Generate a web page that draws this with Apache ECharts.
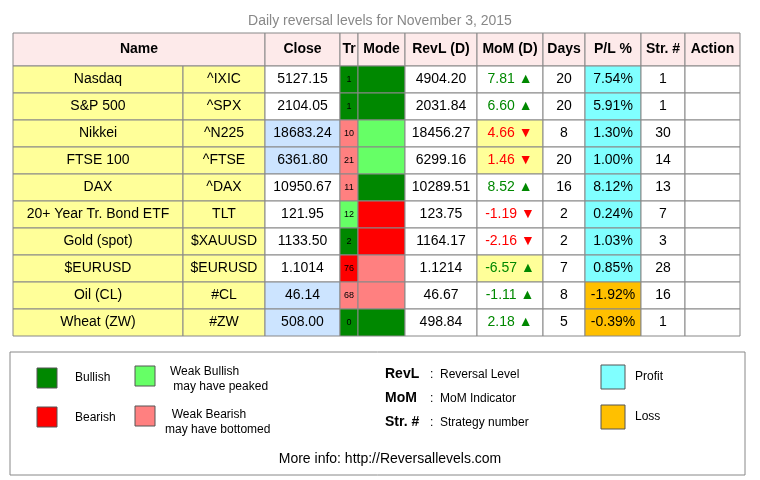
<!DOCTYPE html>
<html><head><meta charset="utf-8">
<script src="https://cdn.jsdelivr.net/npm/echarts@6/dist/echarts.min.js"></script>
<style>body{margin:0}#main{width:760px;height:480px}</style>
</head><body><div id="main"></div>
<script>
// table data
var names = ['Nasdaq','S&P 500','Nikkei','FTSE 100','DAX','20+ Year Tr. Bond ETF','Gold (spot)','$EURUSD','Oil (CL)','Wheat (ZW)'];
var tickers = ['^IXIC','^SPX','^N225','^FTSE','^DAX','TLT','$XAUUSD','$EURUSD','#CL','#ZW'];
var closes = ['5127.15','2104.05','18683.24','6361.80','10950.67','121.95','1133.50','1.1014','46.14','508.00'];
var closeBlue = [0,0,1,1,0,0,0,0,1,1];
var trend = [1,1,10,21,11,12,2,76,68,0];
var trendState = ['bull','bull','wbear','wbear','wbear','wbull','bull','bear','wbear','bull'];
var modeState = ['bull','bull','wbull','wbull','bull','bear','bear','wbear','wbear','bull'];
var revl = ['4904.20','2031.84','18456.27','6299.16','10289.51','123.75','1164.17','1.1214','46.67','498.84'];
var mom = ['7.81','6.60','4.66','1.46','8.52','-1.19','-2.16','-6.57','-1.11','2.18'];
var momUp = [1,1,0,0,1,0,0,1,1,1];
var momFlag = [0,0,1,1,0,0,0,1,0,0];
var days = [20,20,8,20,16,2,2,7,8,5];
var pl = ['7.54%','5.91%','1.30%','1.00%','8.12%','0.24%','1.03%','0.85%','-1.92%','-0.39%'];
var strat = [1,1,30,14,13,7,3,28,16,1];
var headers = ['Name','','Close','Tr','Mode','RevL (D)','MoM (D)','Days','P/L %','Str. #','Action'];

var colX = [13,183,265,340,358,405,477,543,585,641,685,740];
var rowY = [33,66,93,120,147,174,201,228,255,282,309,336];
var stateColor = {bull:'#008800', wbull:'#66ff66', bear:'#ff0000', wbear:'#ff8080'};

var cells = [];
headers.forEach(function (h, c) {
  if (c === 1) return;
  cells.push({x0: colX[c], x1: colX[c === 0 ? 2 : c + 1], y0: rowY[0], y1: rowY[1], text: h, fill: '#fdeaea', bold: true});
});
names.forEach(function (n, r) {
  var y0 = rowY[r + 1], y1 = rowY[r + 2];
  function add(c, text, fill, color, size) {
    cells.push({x0: colX[c], x1: colX[c + 1], y0: y0, y1: y1, text: String(text), fill: fill, color: color || '#000', size: size || 14});
  }
  add(0, n, '#ffff99');
  add(1, tickers[r], '#ffff99');
  add(2, closes[r], closeBlue[r] ? '#cce4ff' : '#fff');
  add(3, trend[r], stateColor[trendState[r]], '#000', 9);
  add(4, '', stateColor[modeState[r]]);
  add(5, revl[r], '#fff');
  add(6, mom[r] + (momUp[r] ? ' ▲' : ' ▼'), momFlag[r] ? '#ffff99' : '#fff', momUp[r] ? '#008800' : '#ff0000');
  add(7, days[r], '#fff');
  add(8, pl[r], pl[r].charAt(0) === '-' ? '#ffc000' : '#80ffff');
  add(9, strat[r], '#fff');
  add(10, '', '#fff');
});

var chart = echarts.init(document.getElementById('main'));
var font = '"Liberation Sans", Arial, sans-serif';
chart.setOption({
  animation: false,
  title: {text: 'Daily reversal levels for November 3, 2015', left: 'center', top: 9,
    textStyle: {color: '#888', fontSize: 14, fontWeight: 'normal', fontFamily: font}},
  grid: {left: 0, right: 0, top: 0, bottom: 0},
  xAxis: {type: 'value', min: 0, max: 760, show: false},
  yAxis: {type: 'value', min: 0, max: 480, inverse: true, show: false},
  series: [{
    type: 'custom',
    data: cells.map(function (c, i) { return [i]; }),
    renderItem: function (params, api) {
      var c = cells[api.value(0)];
      var p0 = api.coord([c.x0, c.y0]), p1 = api.coord([c.x1, c.y1]);
      return {type: 'group', children: [
        {type: 'rect', shape: {x: p0[0], y: p0[1], width: p1[0] - p0[0], height: p1[1] - p0[1]},
          style: {fill: c.fill, stroke: '#888', lineWidth: 1}},
        {type: 'text', x: (p0[0] + p1[0]) / 2, y: (p0[1] + p1[1]) / 2,
          style: {text: c.text, fill: c.color || '#000', align: 'center', verticalAlign: 'middle',
            font: (c.bold ? 'bold ' : '') + (c.size || 14) + 'px ' + font}}
      ]};
    }
  }],
  graphic: [
    {type: 'rect', shape: {x: 10, y: 352, width: 735, height: 123}, style: {fill: '#fff', stroke: '#888'}},
    {type: 'rect', shape: {x: 37, y: 368, width: 20, height: 20}, style: {fill: '#008800', stroke: '#555'}},
    {type: 'text', x: 75, y: 372, style: {text: 'Bullish', font: '12px ' + font}},
    {type: 'rect', shape: {x: 135, y: 366, width: 20, height: 20}, style: {fill: '#66ff66', stroke: '#555'}},
    {type: 'text', x: 170, y: 364, style: {text: 'Weak Bullish\n may have peaked', font: '12px ' + font, lineHeight: 15}},
    {type: 'rect', shape: {x: 37, y: 407, width: 20, height: 20}, style: {fill: '#ff0000', stroke: '#555'}},
    {type: 'text', x: 75, y: 412, style: {text: 'Bearish', font: '12px ' + font}},
    {type: 'rect', shape: {x: 135, y: 406, width: 20, height: 20}, style: {fill: '#ff8080', stroke: '#555'}},
    {type: 'text', x: 165, y: 407, style: {text: '  Weak Bearish\nmay have bottomed', font: '12px ' + font, lineHeight: 15}},
    {type: 'text', x: 385, y: 367, style: {text: 'RevL', font: 'bold 14px ' + font}},
    {type: 'text', x: 430, y: 369, style: {text: ':  Reversal Level', font: '12px ' + font}},
    {type: 'text', x: 385, y: 391, style: {text: 'MoM', font: 'bold 14px ' + font}},
    {type: 'text', x: 430, y: 393, style: {text: ':  MoM Indicator', font: '12px ' + font}},
    {type: 'text', x: 385, y: 415, style: {text: 'Str. #', font: 'bold 14px ' + font}},
    {type: 'text', x: 430, y: 417, style: {text: ':  Strategy number', font: '12px ' + font}},
    {type: 'rect', shape: {x: 601, y: 365, width: 24, height: 24}, style: {fill: '#80ffff', stroke: '#555'}},
    {type: 'text', x: 635, y: 371, style: {text: 'Profit', font: '12px ' + font}},
    {type: 'rect', shape: {x: 601, y: 405, width: 24, height: 24}, style: {fill: '#ffc000', stroke: '#555'}},
    {type: 'text', x: 635, y: 411, style: {text: 'Loss', font: '12px ' + font}},
    {type: 'text', x: 390, y: 452, style: {text: 'More info: http://Reversallevels.com', font: '14px ' + font, align: 'center'}}
  ]
});
</script></body></html>
